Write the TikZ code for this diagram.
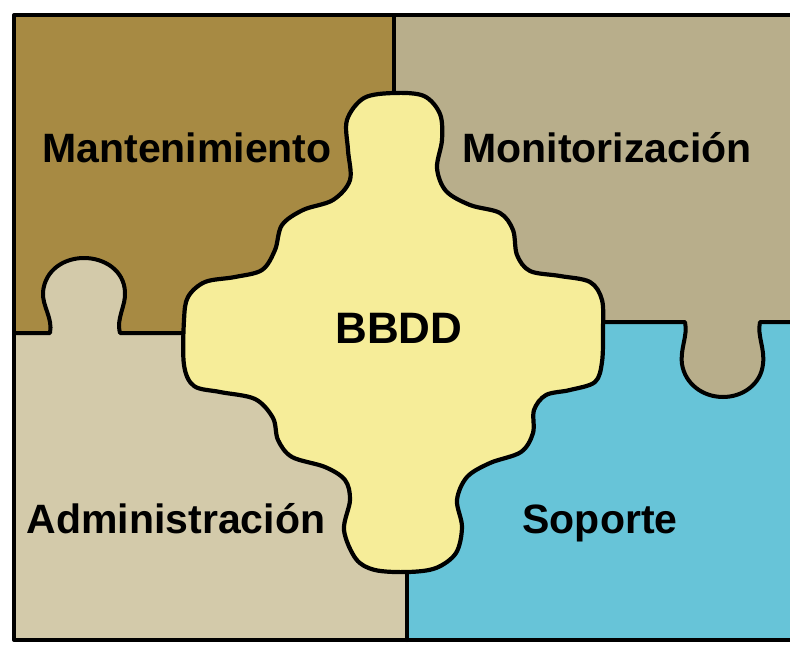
\documentclass[tikz,border=0pt]{standalone}
\usepackage{fontspec}
\setmainfont{Liberation Sans}
\usepackage{tikz}
\usetikzlibrary{positioning}
\definecolor{mantcol}{RGB}{167,138,67}
\definecolor{monicol}{RGB}{184,174,139}
\definecolor{admicol}{RGB}{211,202,170}
\definecolor{sopocol}{RGB}{103,196,216}
\definecolor{bbddcol}{RGB}{246,237,153}
% knobs of the two side pieces
\newcommand{\admiknob}{(50,333) .. controls (53,318) and (42,306) .. (43,292)
	.. controls (45,270) and (64,258) .. (84,258) .. controls (104,258) and (124,270) .. (125,292)
	.. controls (126,306) and (116,318) .. (120,333)}
\newcommand{\moniknob}{(685,322) .. controls (688,336) and (680,348) .. (682,364)
	.. controls (685,384) and (703,397) .. (723,397) .. controls (743,397) and (761,384) .. (763,364)
	.. controls (765,348) and (757,336) .. (760,322)}
\tikzset{
	puzzle/.style={x=1pt, y=-1pt, line join=round, line cap=round},
	edge line/.style={draw=black, line width=4pt},
	area name/.style={font=\bfseries\fontsize{41}{41}\selectfont, anchor=base, inner sep=0pt},
	core/.style={fill=bbddcol, draw=black, line width=4.2pt}
}
\begin{document}
\begin{tikzpicture}[puzzle]
  \useasboundingbox[fill=white] (0,0) rectangle (790,648);
  \clip (0,0) rectangle (790,648);
  \fill[mantcol] (14,15) rectangle (394,333);
  \fill[monicol] (394,15) rectangle (800,410);
  \fill[admicol] (14,333) -- \admiknob -- (407,333) -- (407,640) -- (14,640) -- cycle;
  \fill[sopocol] (407,322) -- \moniknob -- (800,322) -- (800,640) -- (407,640) -- cycle;
  % frame and joints
  \draw[edge line] (800,15) -- (14,15) -- (14,640) -- (800,640);
  \draw[edge line] (394,15) -- (394,200);
  \draw[edge line] (407,450) -- (407,640);
  \draw[edge line] (14,333) -- \admiknob -- (250,333);
  \draw[edge line] (520,322) -- \moniknob -- (800,322);
  % central piece
  \filldraw[core] plot[smooth cycle, tension=0.55] coordinates {
	(394,93) (424,96) (440,114) (442,140) (437,168) (446,191) (470,205) (500,213)
	(513,230) (517,255) (530,271) (560,276) (590,282) (602,300) (603,330) (602,362)
	(595,382) (570,390) (546,395) (534,410) (533,433) (521,452) (490,463) (467,477)
	(457,500) (462,527) (456,553) (436,568) (408,572) (375,570) (356,559) (344,530)
	(350,500) (345,480) (325,467) (292,457) (278,440) (273,418) (255,399) (220,392)
	(194,386) (184,365) (184,320) (188,297) (205,282) (235,277) (262,270) (275,250)
	(282,225) (303,210) (333,200) (350,180) (348,150) (347,120) (364,98)};
  \node[area name] (mant) at (187,162) {Mantenimiento};
  \node[area name] (moni) at (607,162) {Monitorización};
  \node[area name] (admi) at (176,533) {Administración};
  \node[area name] (sopo) at (600,533) {Soporte};
  \node[area name, font=\bfseries\fontsize{44}{44}\selectfont] (bbdd) at (399,343) {BBDD};
\end{tikzpicture}
\end{document}
